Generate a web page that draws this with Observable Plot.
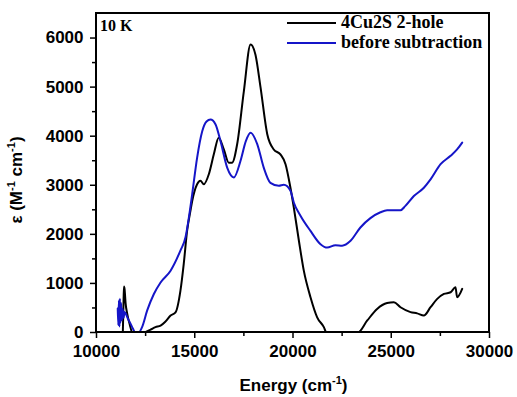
<!DOCTYPE html>
<html><head><meta charset="utf-8">
<script src="https://cdn.jsdelivr.net/npm/d3@7"></script>
<script src="https://cdn.jsdelivr.net/npm/@observablehq/plot@0.6"></script>
<style>body{margin:0;background:#fff}</style>
</head><body><div id="chart"></div>
<script>
// Series 1: 4Cu2S 2-hole (black)
const holeEnergy = [11340,11380,11400,11430,11480,11560,11700,11820,12400,12750,13000,13260,13500,13770,14020,14270,14440,14610,14780,14870,15120,15290,15460,15720,15970,16220,16480,16730,16900,17160,17500,17840,18090,18350,18690,19020,19360,19620,19870,20040,20300,20550,20890,21230,21570,21700,23300,23780,24280,24790,25130,25470,25980,26320,26660,27000,27340,27680,28020,28270,28350,28610];
const holeEps    = [0,700,935,880,600,390,150,0,0,60,110,140,220,345,410,850,1400,2070,2480,2680,3020,3090,3020,3230,3630,3970,3730,3460,3460,3840,4920,5870,5660,4990,4040,3730,3630,3430,2950,2550,1870,1260,720,310,110,0,0,245,480,600,615,515,415,390,345,515,685,785,820,920,720,890];
// Series 2: before subtraction (blue)
const beforeEnergy = [11080,11110,11140,11170,11190,11220,11250,11290,11330,11380,11420,11480,11600,11730,11850,11980,12150,12320,12580,12920,13260,13770,14270,14530,14700,14870,15120,15380,15600,15800,16060,16310,16650,16990,17330,17600,17840,18180,18510,18850,19280,19530,19870,20040,20380,20890,21400,21740,22160,22500,22930,23430,23940,24450,24790,25470,25720,26150,26660,27000,27510,28020,28350,28610];
const beforeEps    = [490,150,650,120,690,200,600,250,480,300,420,390,280,180,80,0,0,110,450,785,1020,1260,1670,1940,2340,2820,3560,4100,4300,4340,4240,3900,3360,3160,3500,3900,4070,3840,3360,3050,2990,3010,2890,2650,2380,2070,1800,1730,1780,1770,1870,2140,2330,2450,2490,2490,2580,2780,2950,3120,3430,3600,3730,3870];

const seriesNames = ["4Cu2S 2-hole", "before subtraction"];
const seriesColors = ["#000000", "#1515c8"];
const xTicks = [10000, 15000, 20000, 25000, 30000];
const xMinorTicks = [12500, 17500, 22500, 27500];
const yTicks = [0, 1000, 2000, 3000, 4000, 5000, 6000];
const yMinorTicks = [500, 1500, 2500, 3500, 4500, 5500];
const xLabel = "Energy (cm";
const yLabel = "ε (M";
const tempLabel = "10 K";

const hole = holeEnergy.map((e, i) => ({e, v: holeEps[i]}));
const before = beforeEnergy.map((e, i) => ({e, v: beforeEps[i]}));

const W = 517, H = 397, mL = 96, mR = 28, mT = 13, mB = 65;

const chart = Plot.plot({
  width: W, height: H,
  marginLeft: mL, marginRight: mR, marginTop: mT, marginBottom: mB,
  x: {domain: [10000, 30000]},
  y: {domain: [0, 6500]},
  style: {fontFamily: "'Liberation Sans', Arial, sans-serif", fontSize: "17px", fontWeight: "bold", color: "black", background: "white"},
  marks: [
    Plot.axisX(xMinorTicks, {tickSize: 4, tickFormat: () => "", label: null, strokeWidth: 1.5}),
    Plot.axisX(xTicks, {tickSize: 6, tickPadding: 6, tickFormat: d => String(d), label: null, strokeWidth: 1.5}),
    Plot.axisY(yMinorTicks, {tickSize: 4, tickFormat: () => "", label: null, strokeWidth: 1.5}),
    Plot.axisY(yTicks, {tickSize: 6, tickPadding: 7, tickFormat: d => String(d), label: null, strokeWidth: 1.5}),
    Plot.line(hole, {x: "e", y: "v", stroke: seriesColors[0], strokeWidth: 2, curve: "monotone-x", clip: true}),
    Plot.line(before, {x: "e", y: "v", stroke: seriesColors[1], strokeWidth: 2, curve: "monotone-x", clip: true})
  ]
});
document.getElementById("chart").appendChild(chart);

const svg = d3.select(chart);
const sx = chart.scale("x"), sy = chart.scale("y");
const x0 = Math.min(...sx.range), x1 = Math.max(...sx.range);
const y0 = Math.min(...sy.range), y1 = Math.max(...sy.range);
// frame
svg.append("rect").attr("x", x0).attr("y", y0).attr("width", x1 - x0).attr("height", y1 - y0)
  .attr("fill", "none").attr("stroke", "black").attr("stroke-width", 2);
// x axis label
const xl = svg.append("text").attr("x", (x0 + x1) / 2 + 1).attr("y", 391).attr("text-anchor", "middle")
  .attr("font-family", "'Liberation Sans', Arial, sans-serif").attr("font-weight", "bold").attr("font-size", 17).attr("fill", "black");
xl.append("tspan").text(xLabel);
xl.append("tspan").attr("dy", -7).attr("font-size", 11).text("-1");
xl.append("tspan").attr("dy", 7).text(")");
// y axis label
const yl = svg.append("text").attr("transform", "translate(22,180) rotate(-90)").attr("text-anchor", "middle")
  .attr("font-family", "'Liberation Sans', Arial, sans-serif").attr("font-weight", "bold").attr("font-size", 17).attr("fill", "black");
yl.append("tspan").text(yLabel);
yl.append("tspan").attr("dy", -7).attr("font-size", 11).text("-1");
yl.append("tspan").attr("dy", 7).text(" cm");
yl.append("tspan").attr("dy", -7).attr("font-size", 11).text("-1");
yl.append("tspan").attr("dy", 7).text(")");
// temperature label
svg.append("text").attr("x", x0 + 4).attr("y", 31).attr("text-anchor", "start")
  .attr("font-family", "'Liberation Serif', 'Times New Roman', serif")
  .attr("font-weight", "bold").attr("font-size", 16).attr("fill", "black").text(tempLabel);
// legend
seriesNames.forEach((name, i) => {
  const y = 23 + i * 20;
  svg.append("line").attr("x1", 287).attr("x2", 336).attr("y1", y).attr("y2", y)
    .attr("stroke", seriesColors[i]).attr("stroke-width", 2);
  svg.append("text").attr("x", 341).attr("y", y + 5).attr("text-anchor", "start")
    .attr("font-family", "'Liberation Serif', 'Times New Roman', serif")
    .attr("font-weight", "bold").attr("font-size", 18).attr("fill", "black").text(name);
});
</script>
</body></html>
